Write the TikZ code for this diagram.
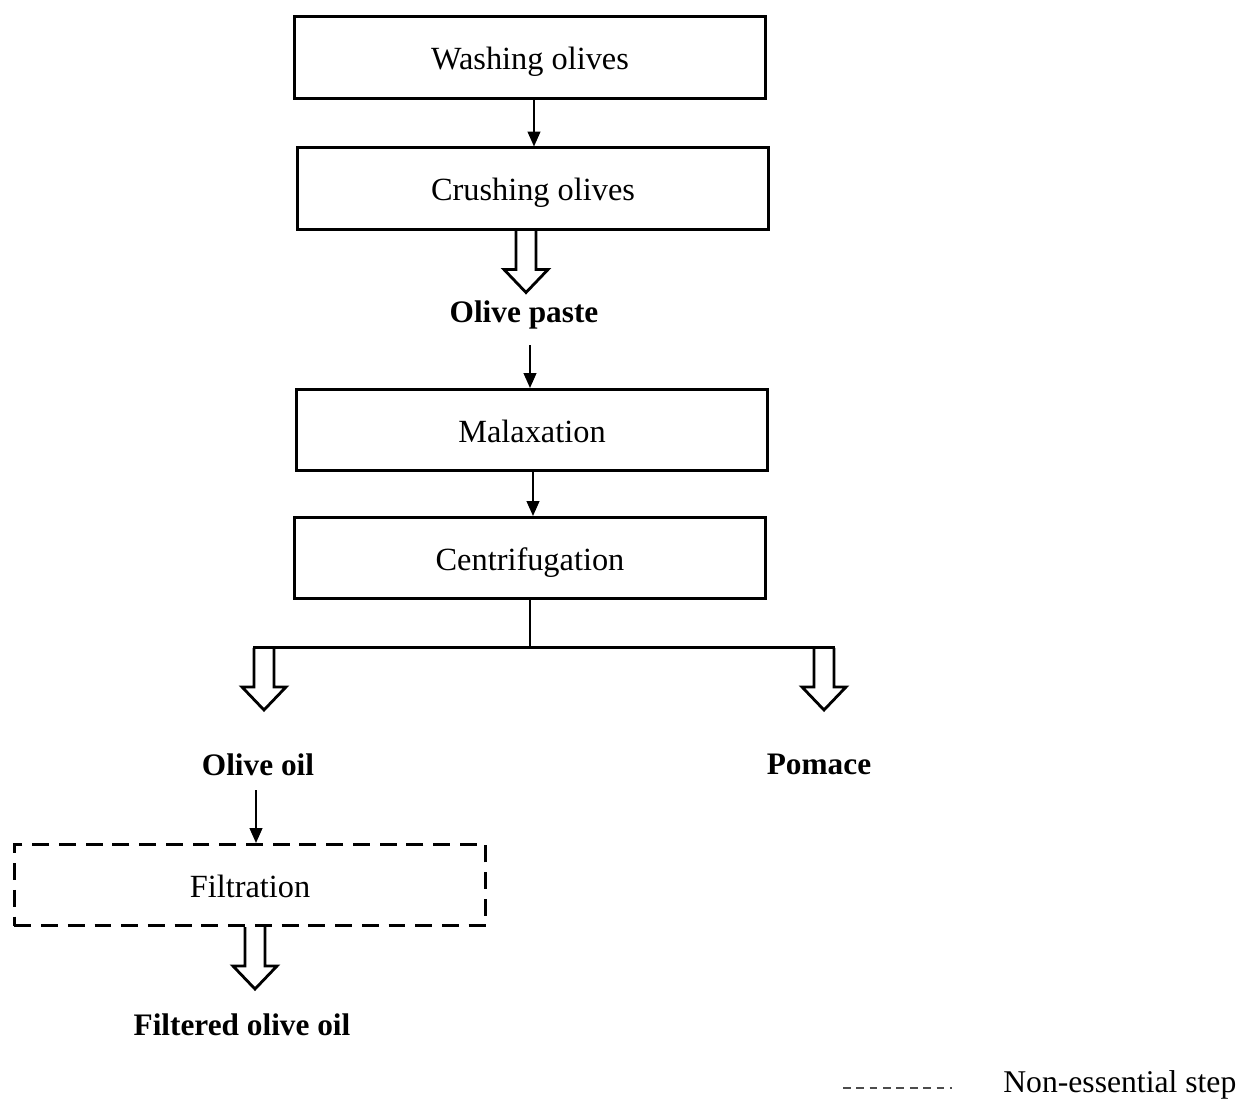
\documentclass[tikz,border=0pt]{standalone}
\usepackage{fontspec}
\setmainfont{Liberation Serif}
\usetikzlibrary{arrows.meta}
\usetikzlibrary{positioning}

\tikzset{
  stepbox/.style={draw, line width=0.85pt, minimum width=4.71cm, minimum height=0.81cm, inner sep=0pt, text height=9pt, text depth=2pt, font=\fontsize{9.2}{11}\selectfont},
  optbox/.style={stepbox, dash pattern=on 4.8pt off 2.8pt},
  product/.style={font=\fontsize{8.9}{11}\selectfont\bfseries, inner sep=1pt},
  flow/.style={-{Triangle[length=4.2pt,width=3.6pt]}, line width=0.5pt},
  hollow/.pic={\draw[line width=0.8pt, line join=miter] (-10,0) -- (-10,39) -- (-22,39) -- (0,62) -- (22,39) -- (10,39) -- (10,0);}
}

\begin{document}
\begin{tikzpicture}[x=0.01cm, y=-0.01cm]
\useasboundingbox (0,0) rectangle (1239,1101);

%process steps
\node[stepbox] (wash) at (530,57.5) {Washing olives};
\node[stepbox] (crush) at (533,188.5) {Crushing olives};
\node[product] (paste) at (524,315) {Olive paste};
\node[stepbox] (malax) at (532,430) {Malaxation};
\node[stepbox] (centri) at (530,558) {Centrifugation};

%products
\node[product] (oil) at (258,765) {Olive oil};
\node[product] (pomace) at (819,764) {Pomace};
\node[optbox] (filt) at (250,885) {Filtration};
\node[product] (filtered) at (242,1025) {Filtered olive oil};

%split after centrifugation
\coordinate (split) at (530,648);
\coordinate (left) at (264,648);
\coordinate (right) at (824,648);

\draw[flow] (wash.south -| 534,0) -- (crush.north -| 534,0);
\pic at (crush.south -| 526,0) {hollow};
\draw[flow] (paste.south -| 530,0) ++(0,12) -- (malax.north -| 530,0);
\draw[flow] (malax.south -| 533,0) -- (centri.north -| 533,0);
\draw[line width=0.5pt] (centri.south) -- (split);
\draw[line width=0.85pt] (253,648) -- (835,648);
\pic at (left) {hollow};
\pic at (right) {hollow};
\draw[flow] (oil.south -| 256,0) ++(0,10) -- (filt.north -| 256,0);
\pic at (filt.south -| 255,0) {hollow};

%legend
\coordinate (dash a) at (843,1088);
\coordinate (dash b) at (952,1088);
\draw[line width=0.4pt, black!70, dash pattern=on 2.2pt off 1.6pt] (dash a) -- (dash b);
\node[font=\fontsize{9}{11}\selectfont, anchor=east, inner sep=0pt] (legend) at (1237,1085) {Non-essential step};
\end{tikzpicture}
\end{document}
